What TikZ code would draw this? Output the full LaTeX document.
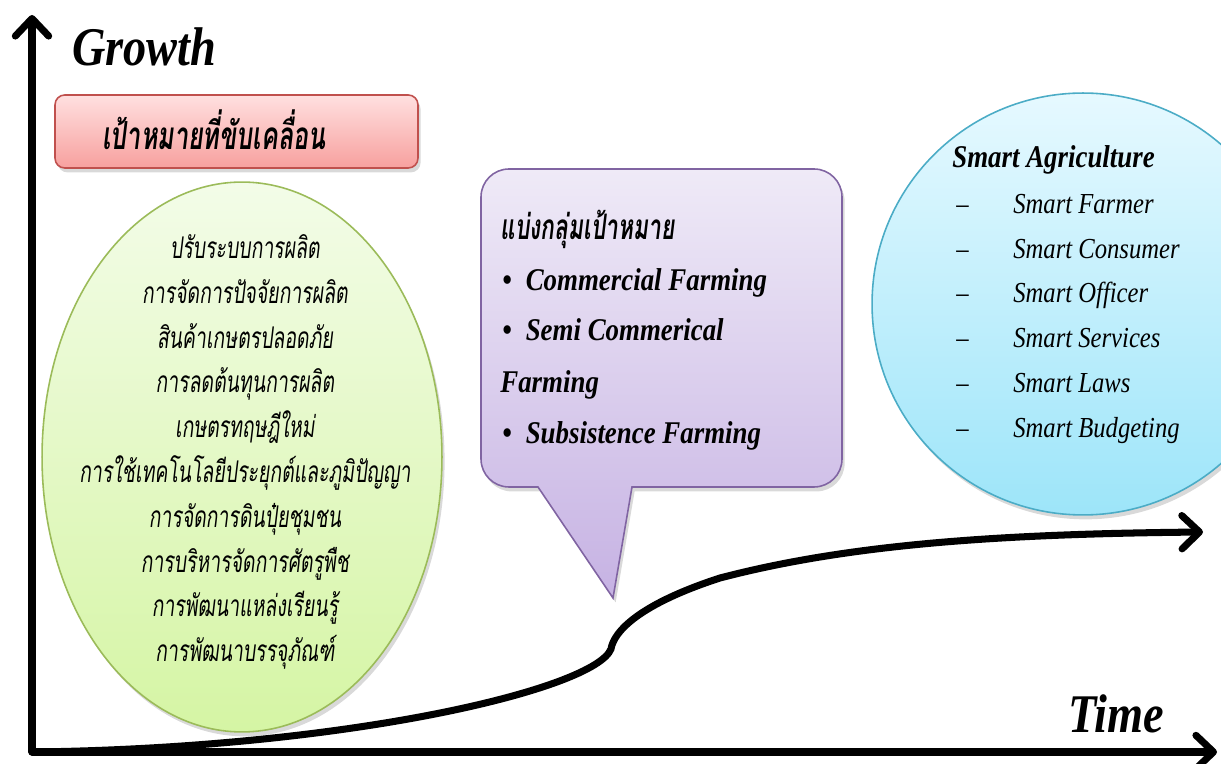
\documentclass[tikz,border=0pt]{standalone}
\usepackage{fontspec}
\usetikzlibrary{arrows.meta,shadows,shapes.geometric}
\newfontfamily\corsiva[FakeStretch=0.85]{Liberation Serif}
\newfontfamily\thai[Script=Thai,FakeStretch=0.65,FakeSlant=0.12]{Loma}
\definecolor{redborder}{HTML}{C0504D}
\definecolor{redtop}{HTML}{FFE0E0}
\definecolor{redbot}{HTML}{F7A09E}
\definecolor{greenborder}{HTML}{9BBB59}
\definecolor{greentop}{HTML}{F3FCE8}
\definecolor{greenbot}{HTML}{D5F5A4}
\definecolor{purpleborder}{HTML}{8064A2}
\definecolor{purpletop}{HTML}{EFEAF7}
\definecolor{purplebot}{HTML}{C6B2E3}
\definecolor{blueborder}{HTML}{4BACC6}
\definecolor{bluetop}{HTML}{E6F9FF}
\definecolor{bluebot}{HTML}{9DE5F9}
\begin{document}
\begin{tikzpicture}[x=0.02cm,y=0.02cm,
  chev/.style={-{Straight Barb[length=10pt,width=19pt,line cap=round,line join=round]}},
  axis/.style={line width=4pt,line cap=round,chev},
  shadowed/.style={drop shadow={opacity=0.3,shadow xshift=1.5pt,shadow yshift=-2.5pt}},
  bigcors/.style={font=\corsiva\bfseries\itshape\fontsize{31}{36}\selectfont,inner sep=0pt},
  cbold/.style={font=\corsiva\bfseries\itshape\fontsize{18}{22}\selectfont,inner sep=0pt,anchor=base west},
  citem/.style={font=\corsiva\itshape\fontsize{16.5}{20}\selectfont,inner sep=0pt,anchor=base west},
  thaibig/.style={font=\thai\bfseries\fontsize{22}{26}\selectfont,inner sep=0pt},
  thaibody/.style={font=\thai\fontsize{17}{25.5}\selectfont,inner sep=0pt,align=center},
  thaihead/.style={font=\thai\bfseries\fontsize{20}{24}\selectfont,inner sep=0pt,anchor=base west}
]
\useasboundingbox (0,0) rectangle (1221,764);

% shapes
\node[shadowed,draw=greenborder,line width=0.9pt,top color=greentop,bottom color=greenbot,
  ellipse,minimum width=8cm,minimum height=11cm,inner sep=0pt] (green) at (242,307) {};
\node[shadowed,draw=redborder,line width=0.9pt,top color=redtop,bottom color=redbot,
  rounded corners=5.5pt,minimum width=7.26cm,minimum height=1.46cm,inner sep=0pt] (redbox) at (236.5,632.5) {};
\node[shadowed,draw=blueborder,line width=0.9pt,top color=bluetop,bottom color=bluebot,
  circle,minimum size=8.44cm,inner sep=0pt] (blue) at (1083,460) {};
\path[shadowed,draw=purpleborder,line width=0.9pt,top color=purpletop,bottom color=purplebot]
  (538,277) -- (613,166) -- (632,277) -- (814,277)
  arc[start angle=270,end angle=360,radius=28] -- (842,567)
  arc[start angle=0,end angle=90,radius=28] -- (509,595)
  arc[start angle=90,end angle=180,radius=28] -- (481,305)
  arc[start angle=180,end angle=270,radius=28] -- cycle;

% axes
\coordinate (O) at (32,12);
\coordinate (ytip) at (32,749);
\coordinate (xtip) at (1217,12);
\draw[axis] (O) -- (ytip);
\draw[axis] (O) -- (xtip);

% growth curve
\coordinate (c0) at (34,12);
\coordinate (c1) at (611,115);
\coordinate (c2) at (720,186);
\coordinate (c3) at (1203,232);
\draw[line width=4pt,line cap=round,chev]
  (c0) .. controls (350,16) and (595,75) .. (c1)
  .. controls (614,133) and (640,160) .. (c2)
  .. controls (850,220) and (1000,230) .. (c3);

% texts
\node[bigcors,anchor=base west] (growth) at (72,698) {Growth};
\node[bigcors,anchor=base west] (time) at (1068,31) {Time};
\node[thaibig] (title) at (214,634) {เป้าหมายที่ขับเคลื่อน};

\node[thaibody] (greentext) at (245,312) {ปรับระบบการผลิต\\
การจัดการปัจจัยการผลิต\\
สินค้าเกษตรปลอดภัย\\
การลดต้นทุนการผลิต\\
เกษตรทฤษฎีใหม่\\
การใช้เทคโนโลยีประยุกต์และภูมิปัญญา\\
การจัดการดินปุ๋ยชุมชน\\
การบริหารจัดการศัตรูพืช\\
การพัฒนาแหล่งเรียนรู้\\
การพัฒนาบรรจุภัณฑ์};

\node[thaihead] (group) at (500,524) {แบ่งกลุ่มเป้าหมาย};
\node[cbold] (b1) at (502,473) {\textbullet\hspace{8pt}Commercial Farming};
\node[cbold] (b2) at (502,423) {\textbullet\hspace{8pt}Semi Commerical};
\node[cbold] (b2b) at (500,371) {Farming};
\node[cbold] (b3) at (502,320) {\textbullet\hspace{8pt}Subsistence Farming};

\node[cbold] (smart) at (952,596) {Smart Agriculture};
\foreach \yy/\txt/\nm in {550/Smart Farmer/s1,505/Smart Consumer/s2,461/Smart Officer/s3,
  416/Smart Services/s4,371/Smart Laws/s5,326/Smart Budgeting/s6}{
  \node[citem] (d\nm) at (956,\yy) {–};
  \node[citem] (\nm) at (1013,\yy) {\txt};
}
\end{tikzpicture}
\end{document}
